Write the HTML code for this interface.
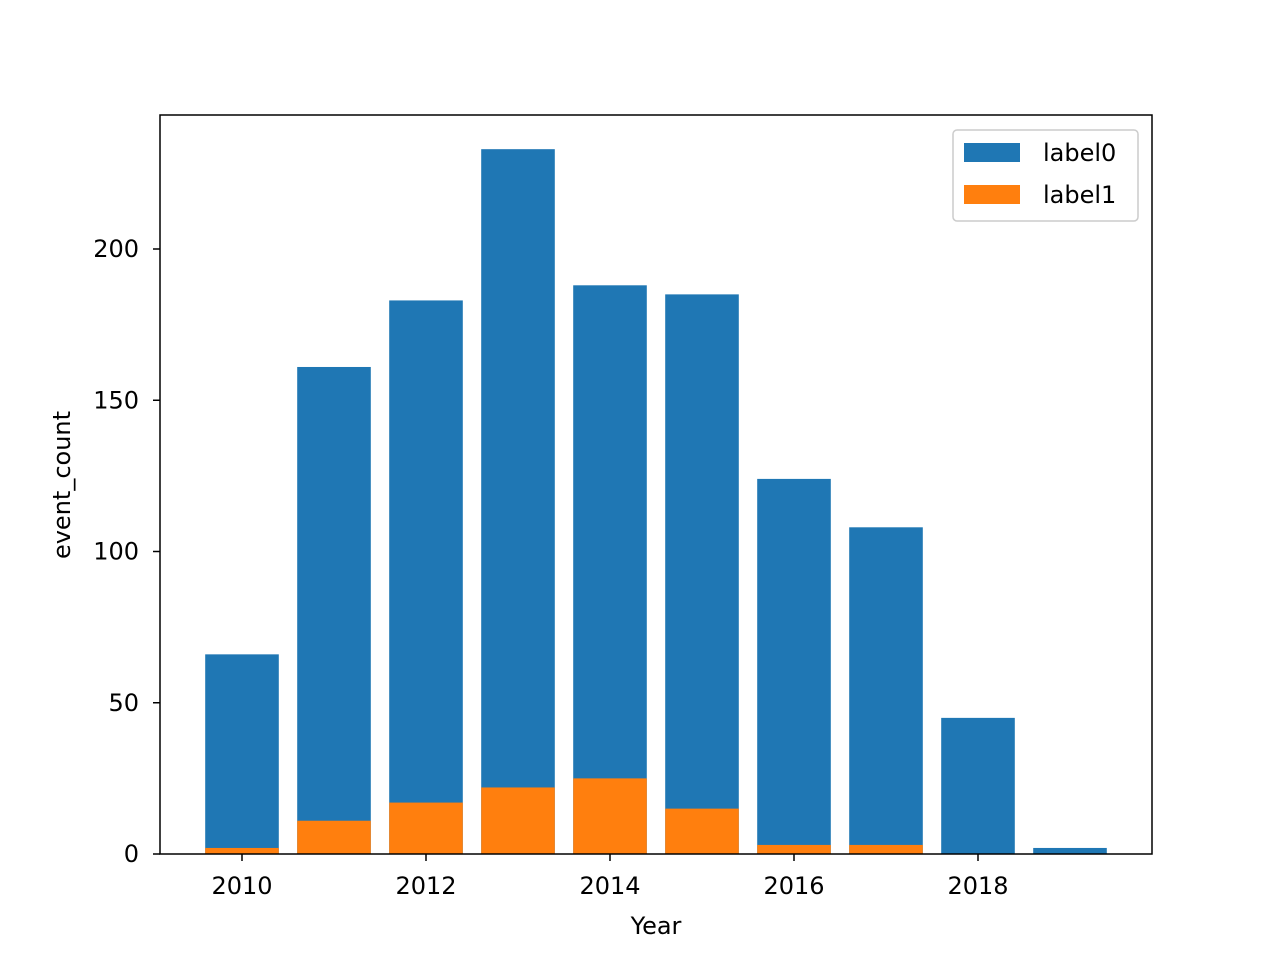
<!DOCTYPE html>
<html><head><meta charset="utf-8"><style>
body{margin:0;background:#fff;}
svg text{font-family:"DejaVu Sans","Liberation Sans",sans-serif;fill:#000;}
</style></head><body>
<svg width="1280" height="960" xmlns="http://www.w3.org/2000/svg">
<g id="bars"></g>
<rect x="160" y="115" width="992" height="739" fill="none" stroke="#000" stroke-width="1.5"/>
<g id="axes"></g>
<text x="656" y="934" font-size="24" text-anchor="middle">Year</text>
<text transform="translate(70,485) rotate(-90)" font-size="24" text-anchor="middle">event_count</text>
<g>
<rect x="953" y="130" width="185" height="91" rx="4" fill="#fff" fill-opacity="0.8" stroke="#ccc" stroke-width="1.5"/>
<rect x="964" y="143" width="56" height="19" fill="#1f77b4"/>
<text x="1043" y="161" font-size="24">label0</text>
<rect x="964" y="185" width="56" height="19" fill="#ff7f0e"/>
<text x="1043" y="203" font-size="24">label1</text>
</g>
</svg>
<script>
const years=[2010,2011,2012,2013,2014,2015,2016,2017,2018,2019];
const label0=[66,161,183,233,188,185,124,108,45,2];
const label1=[2,11,17,22,25,15,3,3,0,0];
const yTicks=[0,50,100,150,200];
const xTicks=[2010,2012,2014,2016,2018];
const NS="http://www.w3.org/2000/svg";
const xs=v=>242+(v-2010)*92;
const ys=v=>854-v*3.025;
const bw=0.8*92;
const bars=document.getElementById('bars');
const axes=document.getElementById('axes');
function mk(t,a,p){const e=document.createElementNS(NS,t);for(const k in a)e.setAttribute(k,a[k]);p.appendChild(e);return e;}
years.forEach((y,i)=>{
 let r=mk('rect',{x:xs(y)-bw/2,y:ys(label0[i]),width:bw,height:ys(0)-ys(label0[i]),fill:'#1f77b4'},bars);
 
 
});
years.forEach((y,i)=>{
 let r=mk('rect',{x:xs(y)-bw/2,y:ys(label1[i]),width:bw,height:ys(0)-ys(label1[i]),fill:'#ff7f0e'},bars);
 
 
});
yTicks.forEach(v=>{
 let l=mk('line',{x1:153,x2:160,y1:ys(v),y2:ys(v),stroke:'#000','stroke-width':1.5},axes);
 
 
 let t=mk('text',{x:139,y:ys(v)+8,'font-size':24,'text-anchor':'end'},axes);
 t.textContent=v;
 
 
});
xTicks.forEach(v=>{
 let l=mk('line',{x1:xs(v),x2:xs(v),y1:854,y2:861,stroke:'#000','stroke-width':1.5},axes);
 
 
 let t=mk('text',{x:xs(v),y:894,'font-size':24,'text-anchor':'middle'},axes);
 t.textContent=v;
 
 
});
</script>
</body></html>
